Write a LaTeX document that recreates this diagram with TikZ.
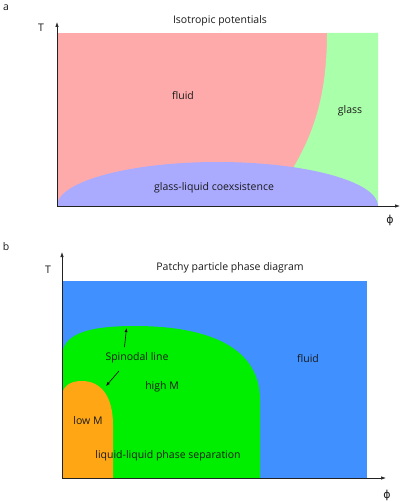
\documentclass[tikz,border=0pt]{standalone}
\usepackage{fontspec}
\setmainfont{Open Sans}
\newfontfamily\phifont{DejaVu Sans}
\usetikzlibrary{arrows.meta}
\definecolor{aRed}{HTML}{FFAAAA}
\definecolor{aGreen}{HTML}{AAFFAA}
\definecolor{aBlue}{HTML}{AAAAFF}
\definecolor{bBlue}{HTML}{4090FF}
\definecolor{bGreen}{HTML}{00EE00}
\definecolor{bOrange}{HTML}{FFA614}
\definecolor{axisgray}{HTML}{222222}
\definecolor{txt}{HTML}{1A1A1A}
\begin{document}
\begin{tikzpicture}[x=1pt,y=-1pt,
  axisline/.style={draw=axisgray,line width=0.7pt,-{Latex[length=5pt,width=3.5pt]}},
  lbl/.style={font=\fontsize{10.5}{12}\selectfont,text=txt,inner sep=0pt},
  philbl/.style={font=\phifont\fontsize{11}{12}\selectfont,text=txt,inner sep=0pt},
  panel/.style={font=\fontsize{10.5}{12}\selectfont,text=txt,inner sep=0pt},
  pointer/.style={draw=black,line width=0.6pt,-{Latex[length=4pt,width=3pt]}}]
\useasboundingbox (0,0) rectangle (403,502);
% ---------- panel a ----------
\node[panel] (la) at (6,8) {a};
\fill[aRed] (57,33) rectangle (378,206);
\fill[aGreen] (327,33) .. controls (327,100) and (312,145) .. (275,195) -- (270,206) -- (378,206) -- (378,33) -- cycle;
\fill[aBlue] (57,206) arc[start angle=180,end angle=0,x radius=160.5pt,y radius=44pt] -- cycle;
\coordinate (oa) at (57,206);
\coordinate (ya) at (57,22);
\coordinate (xa) at (400,206);
\draw[axisline] (oa) -- (ya);
\draw[axisline] (oa) -- (xa);
\node[lbl] (Ta) at (41,28) {T};
\node[philbl] (pa) at (390,220) {ϕ};
\node[lbl] (ta) at (220,21) {Isotropic potentials};
\node[lbl] (fa) at (183,96) {fluid};
\node[lbl] (ga) at (350,111) {glass};
\node[lbl] (ca) at (214,188) {glass-liquid coexsistence};
% ---------- panel b ----------
\node[panel] (lb) at (6,247) {b};
\fill[bBlue] (62,281) rectangle (367,478);
\fill[bGreen] (62,478) -- (62,357) .. controls (62,335) and (85,326) .. (135,326) .. controls (200,326) and (260,343) .. (260,400) -- (260,478) -- cycle;
\fill[bOrange] (62,478) -- (62,397) .. controls (62,386) and (70,381) .. (82,381) .. controls (100,381) and (113,395) .. (113,425) -- (113,478) -- cycle;
\coordinate (ob) at (62,478);
\coordinate (yb) at (62,252);
\coordinate (xb) at (386,478);
\draw[axisline] (ob) -- (yb);
\draw[axisline] (ob) -- (xb);
\node[lbl] (Tb) at (48,270) {T};
\node[philbl] (pb) at (387,495) {ϕ};
\node[lbl] (tb) at (230,268) {Patchy particle phase diagram};
\node[lbl] (sp) at (137,358) {Spinodal line};
\node[lbl] (hm) at (162,387) {high M};
\node[lbl] (fb) at (308,359) {fluid};
\node[lbl] (lm) at (88,421) {low M};
\node[lbl] (ll) at (168,456) {liquid-liquid phase separation};
\coordinate (s1a) at (124.5,347);
\coordinate (s1b) at (126.5,328);
\coordinate (s2a) at (119,371);
\coordinate (s2b) at (106,386);
\draw[pointer] (s1a) -- (s1b);
\draw[pointer] (s2a) -- (s2b);
\end{tikzpicture}
\end{document}
